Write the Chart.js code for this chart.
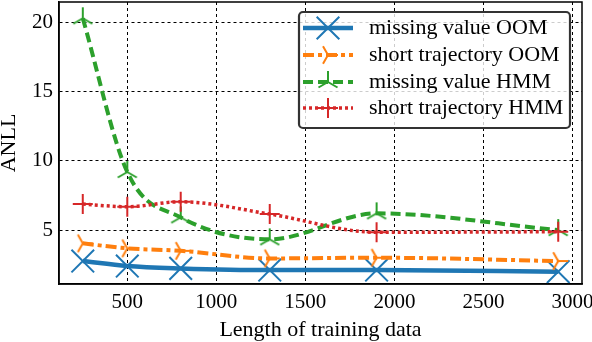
<!DOCTYPE html>
<html>
<head>
<meta charset="utf-8">
<script src="https://cdn.jsdelivr.net/npm/chart.js@4/dist/chart.umd.min.js"></script>
<style>
  html, body { margin: 0; padding: 0; background: #fff; }
  #wrap { width: 592px; height: 342px; }
</style>
</head>
<body>
<div id="wrap"><canvas id="chart" width="592" height="342"></canvas></div>
<script>
// training data lengths (x) and ANLL values per series
const lengths = [250, 500, 800, 1300, 1900, 2920];
const missOOM = [2.76, 2.40, 2.23, 2.11, 2.11, 1.99];
const shortOOM = [4.04, 3.68, 3.50, 2.95, 3.00, 2.76];
const missHMM = [20.32, 9.2, 5.92, 4.33, 6.21, 5.0];
const shortHMM = [6.88, 6.69, 7.05, 6.16, 4.84, 4.88];

const labels = ['missing value OOM', 'short trajectory OOM', 'missing value HMM', 'short trajectory HMM'];
const xTicks = [500, 1000, 1500, 2000, 2500, 3000];
const yTicks = [5, 10, 15, 20];

const FONT = "'Liberation Serif', 'Times New Roman', serif";

// matplotlib style tri markers built as small canvases
function triMarker(color, angles, r) {
  const c = document.createElement('canvas');
  const s = Math.ceil(2 * r + 4);
  c.width = s; c.height = s;
  const g = c.getContext('2d');
  g.strokeStyle = color;
  g.lineWidth = 2;
  g.beginPath();
  angles.forEach(a => {
    const rad = a * Math.PI / 180;
    g.moveTo(s / 2, s / 2);
    g.lineTo(s / 2 + Math.cos(rad) * r, s / 2 - Math.sin(rad) * r);
  });
  g.stroke();
  return c;
}

const triRight = triMarker('#ff7f0e', [0, 120, 240], 10);
const triUp = triMarker('#2ca02c', [90, 210, 330], 11);

function pts(ys) {
  return lengths.map((x, i) => ({ x: x, y: ys[i] }));
}

const datasets = [
  { label: labels[0], data: pts(missOOM), borderColor: '#1f77b4', borderWidth: 4.5, borderDash: [],
    pointStyle: 'crossRot', pointRadius: 16, order: 4 },
  { label: labels[1], data: pts(shortOOM), borderColor: '#ff7f0e', borderWidth: 4, borderDash: [11, 4, 4, 4],
    pointStyle: triRight, pointRadius: 10, order: 3 },
  { label: labels[2], data: pts(missHMM), borderColor: '#2ca02c', borderWidth: 4, borderDash: [10, 5],
    pointStyle: triUp, pointRadius: 11, order: 2 },
  { label: labels[3], data: pts(shortHMM), borderColor: '#d62728', borderWidth: 3.5, borderDash: [3, 3],
    pointStyle: 'cross', pointRadius: 10, order: 1 }
];
datasets.forEach(d => {
  d.pointBorderColor = d.borderColor;
  d.pointBackgroundColor = d.borderColor;
  d.pointBorderWidth = 2;
  d.pointHoverRadius = d.pointRadius;
  d.fill = false;
  d.cubicInterpolationMode = 'monotone';
});

// frame on top/right plus the boxed legend
const framePlugin = {
  id: 'frame',
  afterDraw(chart) {
    const ctx = chart.ctx;
    const a = chart.chartArea;
    ctx.save();
    ctx.strokeStyle = '#000';
    ctx.lineWidth = 1.5;
    ctx.strokeRect(a.left, a.top, a.right - a.left, a.bottom - a.top);

    // legend box
    const bx = 299, by = 12, bw = 271, bh = 116;
    ctx.beginPath();
    ctx.roundRect(bx, by, bw, bh, 4);
    ctx.fillStyle = 'rgba(255,255,255,0.8)';
    ctx.fill();
    ctx.lineWidth = 2.2;
    ctx.strokeStyle = '#333';
    ctx.stroke();

    const rowY = [28, 55, 82, 108];
    chart.data.datasets.forEach((d, i) => {
      const y = rowY[i];
      ctx.save();
      ctx.strokeStyle = d.borderColor;
      ctx.fillStyle = d.borderColor;
      ctx.lineWidth = d.borderWidth;
      ctx.setLineDash(d.borderDash);
      ctx.beginPath();
      ctx.moveTo(303, y);
      ctx.lineTo(353, y);
      ctx.stroke();
      ctx.setLineDash([]);
      ctx.lineWidth = 2;
      Chart.helpers.drawPoint(ctx, {
        pointStyle: d.pointStyle, radius: d.pointRadius, borderWidth: 2, rotation: 0
      }, 328, y);
      ctx.restore();
      ctx.fillStyle = '#000';
      ctx.font = '22px ' + FONT;
      ctx.textBaseline = 'middle';
      ctx.textAlign = 'left';
      ctx.fillText(d.label, 369, y);
    });
    ctx.restore();
  }
};

new Chart(document.getElementById('chart'), {
  type: 'line',
  data: { datasets: datasets },
  options: {
    responsive: false,
    animation: false,
    events: [],
    layout: { autoPadding: false, padding: { top: 2, right: 10, left: 0, bottom: 0 } },
    plugins: { legend: { display: false }, tooltip: { enabled: false } },
    scales: {
      x: {
        type: 'linear',
        min: 116.5,
        max: 3053.5,
        afterBuildTicks(s) { s.ticks = xTicks.map(v => ({ value: v })); },
        afterFit(s) { s.height = 58; s.paddingLeft = 0; s.paddingRight = 0; },
        grid: { color: '#000', lineWidth: 1, drawTicks: false },
        border: { display: true, color: '#000', width: 1.5, dash: [3, 3] },
        ticks: { color: '#000', padding: 6, maxRotation: 0, font: { family: FONT, size: 21 },
          callback: v => String(v) },
        title: { display: true, text: 'Length of training data', color: '#000',
          font: { family: FONT, size: 22, lineHeight: 1.04 }, padding: 0 }
      },
      y: {
        type: 'linear',
        min: 1.1,
        max: 21.5,
        afterBuildTicks(s) { s.ticks = yTicks.map(v => ({ value: v })); },
        afterFit(s) { s.width = 59; s.paddingTop = 0; s.paddingBottom = 0; },
        grid: { color: '#000', lineWidth: 1, drawTicks: false },
        border: { display: true, color: '#000', width: 1.5, dash: [3, 3] },
        ticks: { color: '#000', padding: 6, font: { family: FONT, size: 21 },
          callback: v => String(v) },
        title: { display: true, text: 'ANLL', color: '#000',
          font: { family: FONT, size: 22, lineHeight: 0.8 }, padding: 0 }
      }
    }
  },
  plugins: [framePlugin]
});
</script>
</body>
</html>
